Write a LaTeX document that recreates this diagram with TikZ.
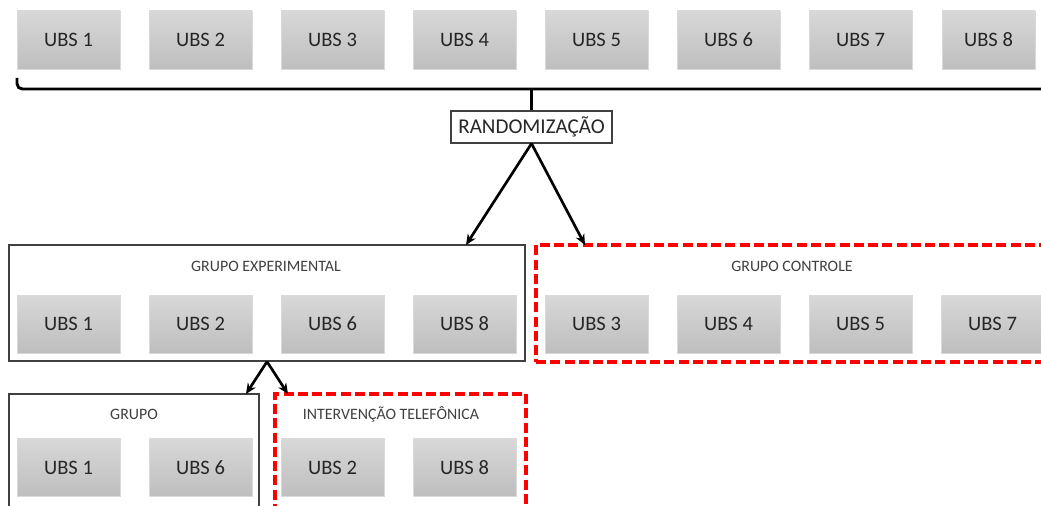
\documentclass[tikz,border=0pt]{standalone}
\usepackage{fontspec}
\setmainfont{Carlito}
\usetikzlibrary{arrows.meta}

\definecolor{ubstop}{HTML}{D8D8D8}
\definecolor{ubsbot}{HTML}{BEBEBE}
\definecolor{ubsline}{HTML}{D9D9D9}
\definecolor{ubstext}{HTML}{262626}
\definecolor{titletext}{HTML}{404040}
\definecolor{boxline}{HTML}{404040}
\definecolor{dashred}{HTML}{FF0000}

\tikzset{
  ubs/.style={draw=ubsline, line width=0.6pt, top color=ubstop, bottom color=ubsbot,
    minimum width=77.25pt, minimum height=43.5pt, inner sep=0pt,
    text=ubstext, font=\fontsize{15.4}{17}\selectfont},
  groupbox/.style={draw=boxline, line width=1pt, fill=none, inner sep=0pt},
  redbox/.style={draw=dashred, line width=2.6pt, dash pattern=on 7.5pt off 3.2pt, inner sep=0pt},
  grouptitle/.style={text=titletext, font=\fontsize{11.9}{13}\selectfont, inner sep=0pt},
  randbox/.style={draw=boxline, line width=0.8pt, fill=white, inner sep=0pt,
    minimum width=120.75pt, minimum height=24pt,
    text=ubstext, font=\fontsize{15.8}{17}\selectfont},
  link/.style={line width=2pt, -{Stealth[length=8pt,width=7pt]}},
}

\begin{document}
\begin{tikzpicture}[x=0.75pt, y=-0.75pt]
  \useasboundingbox (0,0) rectangle (1041,506);
  \begin{scope}
  \clip (0,0) rectangle (1041,506);

  % all health units, top row
  \node[ubs] (t1) at (68.5,40) {UBS 1};
  \node[ubs] (t2) at (200.5,40) {UBS 2};
  \node[ubs] (t3) at (332.5,40) {UBS 3};
  \node[ubs] (t4) at (464.5,40) {UBS 4};
  \node[ubs] (t5) at (596.5,40) {UBS 5};
  \node[ubs] (t6) at (728.5,40) {UBS 6};
  \node[ubs] (t7) at (860.5,40) {UBS 7};
  \node[ubs, minimum width=69.75pt] (t8) at (988.5,40) {UBS 8};

  % randomisation step
  \node[randbox] (rand) at (531.5,127) {RANDOMIZAÇÃO};

  % bracket grouping the units
  \coordinate (brL) at (17,78);
  \coordinate (brR) at (1046,89);
  \coordinate (brC) at (531.5,89);
  \draw[line width=2.2pt, rounded corners=4pt] (brL) -- (17,89) -- (brR);
  \draw[line width=2.2pt] (brC) -- (rand.north);

  % experimental group
  \node[groupbox, minimum width=387pt, minimum height=87pt] (ge) at (267,303) {};
  \node[grouptitle] (getitle) at (266,266) {GRUPO EXPERIMENTAL};
  \node[ubs] (e1) at (68.5,324) {UBS 1};
  \node[ubs] (e2) at (200.5,324) {UBS 2};
  \node[ubs] (e6) at (332.5,324) {UBS 6};
  \node[ubs] (e8) at (464.5,324) {UBS 8};

  % control group
  \node[redbox, minimum width=384pt, minimum height=87.75pt] (gc) at (792,303.5) {};
  \node[grouptitle] (gctitle) at (792,266) {GRUPO CONTROLE};
  \node[ubs] (c3) at (596.5,324) {UBS 3};
  \node[ubs] (c4) at (728.5,324) {UBS 4};
  \node[ubs] (c5) at (860.5,324) {UBS 5};
  \node[ubs] (c7) at (992.5,324) {UBS 7};

  % group sessions
  \node[groupbox, minimum width=187.5pt, minimum height=97.5pt] (gg) at (134,459) {};
  \node[grouptitle] (ggtitle) at (134,414) {GRUPO};
  \node[ubs] (g1) at (68.5,467.5) {UBS 1};
  \node[ubs] (g6) at (200.5,467.5) {UBS 6};

  % telephone intervention
  \node[redbox, minimum width=188.25pt, minimum height=97.5pt] (gi) at (400.5,459) {};
  \node[grouptitle] (gititle) at (391,414) {INTERVENÇÃO TELEFÔNICA};
  \node[ubs] (i2) at (332.5,467.5) {UBS 2};
  \node[ubs] (i8) at (464.5,467.5) {UBS 8};

  % arrows
  \coordinate (geIn) at (466,245);
  \coordinate (gcIn) at (585,245);
  \coordinate (ggIn) at (246,394);
  \coordinate (giIn) at (288,394);
  \draw[link] (rand.south) -- (geIn);
  \draw[link] (rand.south) -- (gcIn);
  \draw[link] (ge.south) -- (ggIn);
  \draw[link] (ge.south) -- (giIn);
  \end{scope}
\end{tikzpicture}
\end{document}
